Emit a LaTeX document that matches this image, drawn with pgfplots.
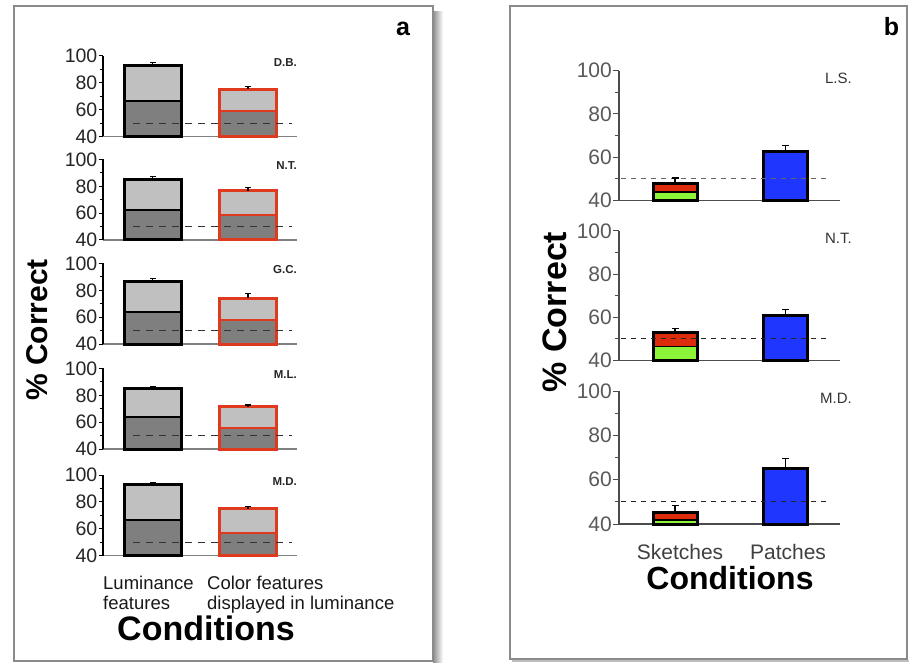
\documentclass[border=0pt]{standalone}
\usepackage{fontspec}
\setmainfont{Liberation Sans}
\usepackage{pgfplots}
\pgfplotsset{compat=1.18}
\definecolor{lg}{HTML}{C0C0C0}
\definecolor{dg}{HTML}{7F7F7F}
\definecolor{redE}{HTML}{E03A1E}
\definecolor{grn}{HTML}{8CF53A}
\definecolor{rdb}{HTML}{DD2C0C}
\definecolor{blu}{HTML}{1F36FF}
\definecolor{frm}{HTML}{8A8A8A}

\pgfplotsset{
 common/.style={scale only axis, clip=false, axis lines=left,
   ymin=40, ymax=100, ytick={40,60,80,100}, minor ytick={50,70,90},
   tick align=outside, xtick=\empty, /pgf/number format/assume math mode=true,
   yticklabel style={inner sep=1pt}},
 pa/.style={common, width=194pt, height=80.5pt, xmin=103, xmax=297,
   y axis line style={black, line width=1.4pt, -}, x axis line style={black!50, line width=1.4pt, -},
   ytick style={black, line width=1pt}, major tick length=4.5pt, minor tick length=3pt,
   yticklabel style={font=\fontsize{19.5}{20}\selectfont, text=black!85}},
 pb/.style={common, width=221pt, xmin=619, xmax=840,
   axis line style={black!70, line width=1.3pt, -},
   ytick style={black!70, line width=1pt}, major tick length=6pt, minor tick length=4pt,
   yticklabel style={font=\fontsize{21}{22}\selectfont, text=black!65}},
}
\tikzset{
 suba/.style={anchor=north east, inner sep=0pt, yshift=-2pt, font=\bfseries\fontsize{11.5}{11.5}\selectfont, text=black!85},
 subb/.style={anchor=north east, inner sep=0pt, xshift=12pt, yshift=-2pt, font=\fontsize{15}{15}\selectfont, text=black!80},
}

% stacked bar of panel a: x1, x2, top, mid, edge colour
\newcommand\stackbar[5]{%
 \addplot[fill=lg, draw=none, forget plot] coordinates {(#1,40) (#1,#3) (#2,#3) (#2,40)} --cycle;
 \addplot[fill=dg, draw=#5, line width=2pt, forget plot] coordinates {(#1,40) (#1,#4) (#2,#4) (#2,40)} --cycle;
 \addplot[draw=#5, line width=3pt, fill=none, forget plot] coordinates {(#1,40) (#1,#3) (#2,#3) (#2,40)} --cycle;
}
% sketches bar of panel b: x1, x2, top, green top
\newcommand\sketchbar[4]{%
 \addplot[fill=rdb, draw=none, forget plot] coordinates {(#1,40) (#1,#3) (#2,#3) (#2,40)} --cycle;
 \addplot[fill=grn, draw=black, line width=1.5pt, forget plot] coordinates {(#1,40) (#1,#4) (#2,#4) (#2,40)} --cycle;
 \addplot[draw=black, line width=3pt, fill=none, forget plot] coordinates {(#1,40) (#1,#3) (#2,#3) (#2,40)} --cycle;
}
\newcommand\plainbar[3]{%
 \addplot[fill=blu, draw=black, line width=3pt, forget plot] coordinates {(#1,40) (#1,#3) (#2,#3) (#2,40)} --cycle;
}
% error bar: x, top, plus, cap size
\newcommand\err[4]{%
 \addplot[draw=none, mark=none, forget plot, error bars/.cd, y dir=plus, y explicit,
   error mark=|,
   error bar style={draw=black, line width=1.2pt, solid},
   error mark options={draw=black, line width=1.2pt, mark size=#4, solid}]
   coordinates {(#1,#2) += (0,#3)};
}

\begin{document}
\begin{tikzpicture}[x=1pt,y=1pt]
\path[use as bounding box] (0,0) rectangle (909,662);
% frames
\fill[left color=black!45, right color=white] (433,0) rectangle (443,650);
\draw[frm, line width=1.5pt, fill=white] (14,1) rectangle (433,656);
\fill[black!25] (512,0) rectangle (909,2);
\draw[frm, line width=1.5pt, fill=white] (510,3) rectangle (907,656);

%================ panel a ================
\begin{axis}[pa, at={(103pt,525.5pt)}]
 \stackbar{124.5}{181}{93}{66.7}{black}
 \stackbar{219.5}{276.5}{75.3}{59.3}{redE}
 \addplot[black!80, line width=1pt, dash pattern=on 7pt off 6pt, forget plot] coordinates {(133,50) (292,50)};
 \err{152.75}{93}{2}{3pt}
 \err{248}{75.3}{1.7}{3pt}
 \node[suba] at (rel axis cs:1,1) {D.B.};
\end{axis}
\begin{axis}[pa, at={(103pt,422pt)}]
 \stackbar{124.5}{181}{85}{62.5}{black}
 \stackbar{219.5}{276.5}{76.7}{59}{redE}
 \addplot[black!80, line width=1pt, dash pattern=on 7pt off 6pt, forget plot] coordinates {(133,50) (292,50)};
 \err{152.75}{85}{2.3}{3pt}
 \err{248}{76.7}{2.3}{3pt}
 \node[suba] at (rel axis cs:1,1) {N.T.};
\end{axis}
\begin{axis}[pa, at={(103pt,318pt)}]
 \stackbar{124.5}{181}{86.3}{63.8}{black}
 \stackbar{219.5}{276.5}{74}{57.7}{redE}
 \addplot[black!80, line width=1pt, dash pattern=on 7pt off 6pt, forget plot] coordinates {(133,50) (292,50)};
 \err{152.75}{86.3}{2.3}{3pt}
 \err{248}{74}{3.7}{3pt}
 \node[suba] at (rel axis cs:1,1) {G.C.};
\end{axis}
\begin{axis}[pa, at={(103pt,213pt)}]
 \stackbar{124.5}{181}{85}{63.5}{black}
 \stackbar{219.5}{276.5}{71.6}{55.7}{redE}
 \addplot[black!80, line width=1pt, dash pattern=on 7pt off 6pt, forget plot] coordinates {(133,50) (292,50)};
 \err{152.75}{85}{1.8}{3pt}
 \err{248}{71.6}{1.2}{3pt}
 \node[suba] at (rel axis cs:1,1) {M.L.};
\end{axis}
\begin{axis}[pa, at={(103pt,106.5pt)},
   xtick={103,207}, x tick style={draw=none},
   xticklabels={{Luminance\\features},{Color features\\displayed in luminance}},
   xticklabel style={anchor=north west, align=left, inner sep=0pt, yshift=-16pt,
     font=\fontsize{18.5}{19.5}\selectfont, text=black!90}]
 \stackbar{124.5}{181}{92.8}{66.8}{black}
 \stackbar{219.5}{276.5}{75}{57.1}{redE}
 \addplot[black!80, line width=1pt, dash pattern=on 7pt off 6pt, forget plot] coordinates {(133,50) (292,50)};
 \err{152.75}{92.8}{1.5}{3pt}
 \err{248}{75}{1.5}{3pt}
 \node[suba] at (rel axis cs:1,1) {M.D.};
\end{axis}
\node[rotate=90, font=\bfseries\fontsize{30}{30}\selectfont] at (37.5,332) {\% Correct};
\node[anchor=base, font=\bfseries\fontsize{34}{34}\selectfont] at (206,22) {Conditions};
\node[font=\bfseries\fontsize{25}{25}\selectfont] at (403,633.5) {a};

%================ panel b ================
\begin{axis}[pb, height=129.6pt, at={(619pt,461.7pt)}]
 \sketchbar{653}{697}{47.6}{43.9}
 \plainbar{763.5}{807.5}{62.8}
 \addplot[black!60, line width=1pt, dash pattern=on 5pt off 5pt, forget plot] coordinates {(621,50) (827,50)};
 \err{675}{47.6}{2.7}{3.5pt}
 \err{785.5}{62.8}{2.7}{3.5pt}
 \node[subb] at (rel axis cs:1,1) {L.S.};
\end{axis}
\begin{axis}[pb, height=129.3pt, at={(619pt,301.7pt)}]
 \sketchbar{653}{697}{53.1}{46.3}
 \plainbar{763.5}{807.5}{60.7}
 \addplot[black!85, line width=1pt, dash pattern=on 5pt off 5pt, forget plot] coordinates {(621,50) (827,50)};
 \err{675}{53.1}{1.6}{3.5pt}
 \err{785.5}{60.7}{2.9}{3.5pt}
 \node[subb] at (rel axis cs:1,1) {N.T.};
\end{axis}
\begin{axis}[pb, height=133pt, at={(619pt,138pt)},
   xtick={680,788}, x tick style={draw=none},
   xticklabels={Sketches,Patches},
   xticklabel style={anchor=north, inner sep=0pt, yshift=-14pt,
     font=\fontsize{21}{22}\selectfont, text=black!75}]
 \sketchbar{653}{697}{45.2}{41.8}
 \plainbar{763.5}{807.5}{64.9}
 \addplot[black!85, line width=1pt, dash pattern=on 5pt off 5pt, forget plot] coordinates {(621,50) (827,50)};
 \err{675}{45.2}{3.2}{3.5pt}
 \err{785.5}{64.9}{4.7}{3.5pt}
 \node[subb] at (rel axis cs:1,1) {M.D.};
\end{axis}
\node[rotate=90, font=\bfseries\fontsize{34}{34}\selectfont] at (555,350) {\% Correct};
\node[anchor=base, font=\bfseries\fontsize{32}{32}\selectfont] at (730,73) {Conditions};
\node[font=\bfseries\fontsize{25}{25}\selectfont] at (891.5,635) {b};
\end{tikzpicture}
\end{document}
